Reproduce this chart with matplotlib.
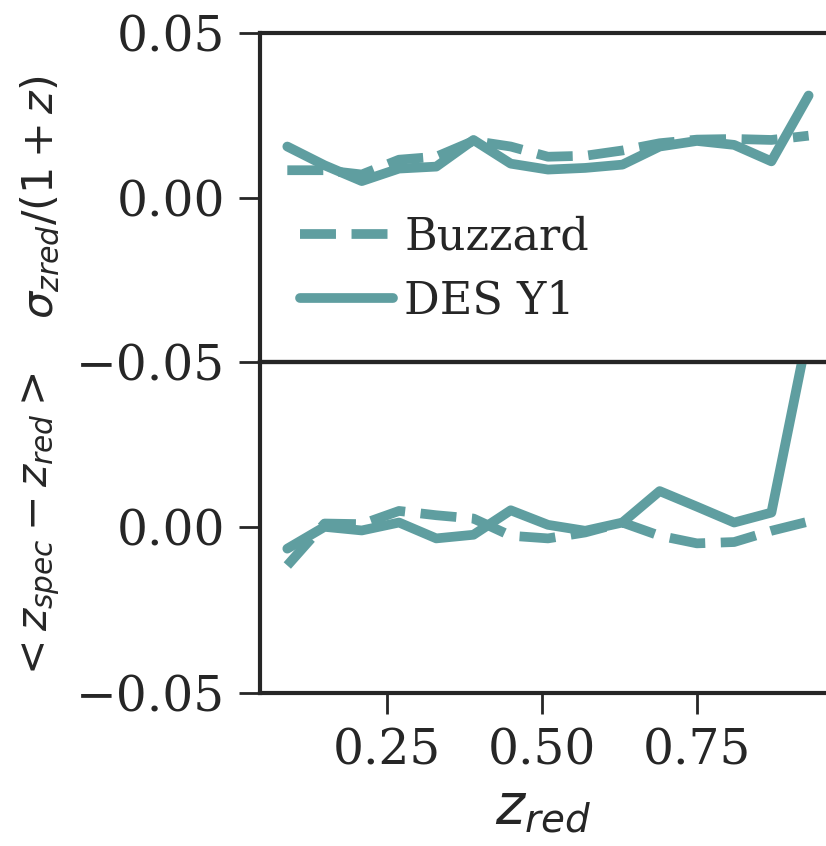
import matplotlib
matplotlib.use("Agg")
import matplotlib.pyplot as plt

# redshift bin centres
z_bins = [0.09, 0.15, 0.21, 0.27, 0.33, 0.39, 0.45, 0.51, 0.57, 0.63, 0.69, 0.75, 0.81, 0.87, 0.93]

# scatter sigma_zred/(1+z)
sig_buzzard = [0.0083, 0.0083, 0.007, 0.0115, 0.0124, 0.0172, 0.0155, 0.0124, 0.0127, 0.0143, 0.0165, 0.0176, 0.0178, 0.0175, 0.0188]
sig_desy1 = [0.0155, 0.0098, 0.0050, 0.0088, 0.0094, 0.0175, 0.0103, 0.0085, 0.0090, 0.0100, 0.0155, 0.0172, 0.0160, 0.0110, 0.0310]

# bias <z_spec - z_red>
bias_buzzard = [-0.0115, 0.0012, 0.0010, 0.0050, 0.0037, 0.0027, -0.0025, -0.0033, -0.0015, 0.0015, -0.0025, -0.0048, -0.0044, -0.0010, 0.0018]
bias_desy1 = [-0.0064, 0.0002, -0.0009, 0.0015, -0.0033, -0.0022, 0.0052, 0.0008, -0.0010, 0.0015, 0.0110, 0.0063, 0.0015, 0.0045, 0.0600]

col = "#5F9EA0"
dark = "#262626"

plt.rcParams["font.family"] = "DejaVu Serif"
plt.rcParams["axes.edgecolor"] = dark
plt.rcParams["axes.linewidth"] = 3
plt.rcParams["xtick.color"] = dark
plt.rcParams["ytick.color"] = dark
plt.rcParams["text.color"] = dark
plt.rcParams["axes.labelcolor"] = dark
plt.rcParams["lines.solid_capstyle"] = "round"

fig = plt.figure(figsize=(8.26, 8.46), dpi=100)
ax1 = fig.add_axes([260 / 826, 0.572, 1 - 260 / 826, 0.961 - 0.572])
ax2 = fig.add_axes([260 / 826, 0.181, 1 - 260 / 826, 0.572 - 0.181], sharex=ax1)
ax2.patch.set_visible(False)

ax1.plot(z_bins, sig_buzzard, "--", c=col, lw=7, label="Buzzard")
ax1.plot(z_bins, sig_desy1, "-", c=col, lw=7, label="DES Y1")
ax2.plot(z_bins, bias_buzzard, "--", c=col, lw=7)
ax2.plot(z_bins, bias_desy1, "-", c=col, lw=7)

ax1.set_xlim(0.046, 0.958)
ax1.set_ylim(-0.05, 0.05)
ax2.set_ylim(-0.05, 0.05)
ax1.set_yticks([-0.05, 0.0, 0.05])
ax2.set_yticks([-0.05, 0.0])
ax2.set_xticks([0.25, 0.5, 0.75])

for ax in (ax1, ax2):
    ax.spines["right"].set_visible(False)
    ax.tick_params(axis="both", which="major", labelsize=35, length=15, width=2)
    ax.tick_params(axis="y", pad=10)
    ax.tick_params(axis="x", pad=10)
ax1.tick_params(axis="x", bottom=False, labelbottom=False)

ax1.set_ylabel(r"$\sigma_{zred}/(1+z)$", fontsize=31)
ax2.set_ylabel(r"$<z_{spec}-z_{red}>$", fontsize=30.5)
ax1.yaxis.set_label_coords(-0.35, 0.5)
ax2.yaxis.set_label_coords(-0.35, 0.5)
ax2.set_xlabel(r"$z_{red}$", fontsize=40, labelpad=4)

ax1.legend(loc="lower left", frameon=False, fontsize=32, handlelength=2.1,
           handletextpad=0.25, labelspacing=0.45)

fig.savefig("out.png", dpi=100)
